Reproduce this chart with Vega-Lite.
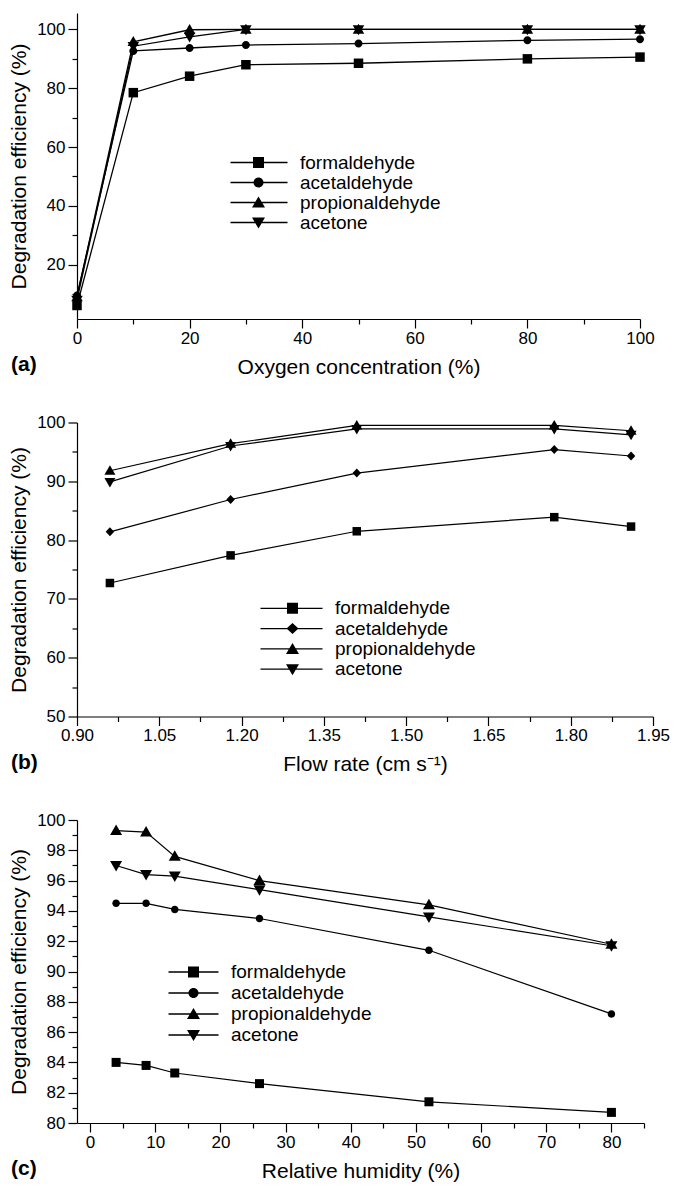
{
  "$schema": "https://vega.github.io/schema/vega-lite/v6.json",
  "padding": {"left": 8, "top": 13, "right": 4, "bottom": 2},
  "background": "white",
  "bounds": "flush",
  "spacing": 103.5,
  "resolve": {"scale": {"shape": "independent"}, "legend": {"shape": "independent"}},
  "config": {
    "font": "Liberation Sans",
    "view": {"stroke": null},
    "axis": {"domainColor": "black", "domainWidth": 1.2, "tickColor": "black", "tickWidth": 1.2, "tickSize": 9, "labelColor": "black", "labelFontSize": 17, "labelFont": "Liberation Sans", "labelFlush": false, "labelOverlap": false, "labelBound": false, "titleColor": "black", "titleFontSize": 21, "titleFont": "Liberation Sans", "titleFontWeight": "normal", "grid": false},
    "axisX": {"labelPadding": 2, "titlePadding": 10},
    "axisY": {"labelPadding": 3, "titlePadding": 7},
    "legend": {"labelFontSize": 19, "labelFont": "Liberation Sans", "labelColor": "black", "labelOffset": 8, "padding": 0, "symbolSize": 100, "symbolFillColor": "black", "symbolStrokeWidth": 0, "symbolOpacity": 1},
    "title": {"font": "Liberation Sans", "color": "black"}
  },
  "datasets": {
    "a": [
      {"compound": "formaldehyde", "x": 0, "y": 6.1}, {"compound": "formaldehyde", "x": 10, "y": 78.5}, {"compound": "formaldehyde", "x": 20, "y": 84.1}, {"compound": "formaldehyde", "x": 30, "y": 88.0}, {"compound": "formaldehyde", "x": 50, "y": 88.5}, {"compound": "formaldehyde", "x": 80, "y": 90.0}, {"compound": "formaldehyde", "x": 100, "y": 90.6},
      {"compound": "acetaldehyde", "x": 0, "y": 9.5}, {"compound": "acetaldehyde", "x": 10, "y": 92.7}, {"compound": "acetaldehyde", "x": 20, "y": 93.7}, {"compound": "acetaldehyde", "x": 30, "y": 94.7}, {"compound": "acetaldehyde", "x": 50, "y": 95.2}, {"compound": "acetaldehyde", "x": 80, "y": 96.3}, {"compound": "acetaldehyde", "x": 100, "y": 96.7},
      {"compound": "propionaldehyde", "x": 0, "y": 9.0}, {"compound": "propionaldehyde", "x": 10, "y": 95.8}, {"compound": "propionaldehyde", "x": 20, "y": 99.9}, {"compound": "propionaldehyde", "x": 30, "y": 100}, {"compound": "propionaldehyde", "x": 50, "y": 100}, {"compound": "propionaldehyde", "x": 80, "y": 100}, {"compound": "propionaldehyde", "x": 100, "y": 100},
      {"compound": "acetone", "x": 0, "y": 8.0}, {"compound": "acetone", "x": 10, "y": 94.3}, {"compound": "acetone", "x": 20, "y": 97.5}, {"compound": "acetone", "x": 30, "y": 100}, {"compound": "acetone", "x": 50, "y": 100}, {"compound": "acetone", "x": 80, "y": 100}, {"compound": "acetone", "x": 100, "y": 100}
    ],
    "b": [
      {"compound": "formaldehyde", "x": 0.96, "y": 72.7}, {"compound": "formaldehyde", "x": 1.18, "y": 77.4}, {"compound": "formaldehyde", "x": 1.41, "y": 81.5}, {"compound": "formaldehyde", "x": 1.77, "y": 83.9}, {"compound": "formaldehyde", "x": 1.91, "y": 82.3},
      {"compound": "acetaldehyde", "x": 0.96, "y": 81.4}, {"compound": "acetaldehyde", "x": 1.18, "y": 86.9}, {"compound": "acetaldehyde", "x": 1.41, "y": 91.4}, {"compound": "acetaldehyde", "x": 1.77, "y": 95.4}, {"compound": "acetaldehyde", "x": 1.91, "y": 94.3},
      {"compound": "propionaldehyde", "x": 0.96, "y": 91.8}, {"compound": "propionaldehyde", "x": 1.18, "y": 96.4}, {"compound": "propionaldehyde", "x": 1.41, "y": 99.5}, {"compound": "propionaldehyde", "x": 1.77, "y": 99.5}, {"compound": "propionaldehyde", "x": 1.91, "y": 98.6},
      {"compound": "acetone", "x": 0.96, "y": 89.9}, {"compound": "acetone", "x": 1.18, "y": 96.0}, {"compound": "acetone", "x": 1.41, "y": 98.9}, {"compound": "acetone", "x": 1.77, "y": 98.9}, {"compound": "acetone", "x": 1.91, "y": 97.9}
    ],
    "c": [
      {"compound": "formaldehyde", "x": 4, "y": 84.0}, {"compound": "formaldehyde", "x": 8.6, "y": 83.8}, {"compound": "formaldehyde", "x": 13, "y": 83.3}, {"compound": "formaldehyde", "x": 26, "y": 82.6}, {"compound": "formaldehyde", "x": 52, "y": 81.4}, {"compound": "formaldehyde", "x": 80, "y": 80.7},
      {"compound": "acetaldehyde", "x": 4, "y": 94.5}, {"compound": "acetaldehyde", "x": 8.6, "y": 94.5}, {"compound": "acetaldehyde", "x": 13, "y": 94.1}, {"compound": "acetaldehyde", "x": 26, "y": 93.5}, {"compound": "acetaldehyde", "x": 52, "y": 91.4}, {"compound": "acetaldehyde", "x": 80, "y": 87.2},
      {"compound": "propionaldehyde", "x": 4, "y": 99.3}, {"compound": "propionaldehyde", "x": 8.6, "y": 99.2}, {"compound": "propionaldehyde", "x": 13, "y": 97.6}, {"compound": "propionaldehyde", "x": 26, "y": 96.0}, {"compound": "propionaldehyde", "x": 52, "y": 94.4}, {"compound": "propionaldehyde", "x": 80, "y": 91.8},
      {"compound": "acetone", "x": 4, "y": 97.0}, {"compound": "acetone", "x": 8.6, "y": 96.4}, {"compound": "acetone", "x": 13, "y": 96.3}, {"compound": "acetone", "x": 26, "y": 95.4}, {"compound": "acetone", "x": 52, "y": 93.6}, {"compound": "acetone", "x": 80, "y": 91.7}
    ]
  },
  "vconcat": [
    {
      "width": 563, "height": 306,
      "data": {"name": "a"},
      "title": {"text": "(a)", "orient": "bottom", "anchor": "start", "frame": "group", "offset": -23, "dx": -66, "fontSize": 21, "fontWeight": "bold"},
      "resolve": {"scale": {"shape": "independent"}, "legend": {"shape": "independent"}},
      "encoding": {
        "x": {"field": "x", "type": "quantitative", "scale": {"domain": [0, 100], "nice": false, "zero": false},
          "axis": {"title": "Oxygen concentration (%)", "values": [0, 10, 20, 30, 40, 50, 60, 70, 80, 90, 100], "labelExpr": "datum.value % 20 === 0 ? datum.label : ''", "tickDash": {"condition": {"test": "datum.value % 20 !== 0", "value": [5, 30]}, "value": [30, 0]}}},
        "y": {"field": "y", "type": "quantitative", "scale": {"domain": [1.5, 105.6], "nice": false, "zero": false},
          "axis": {"title": "Degradation efficiency (%)", "values": [10, 20, 30, 40, 50, 60, 70, 80, 90, 100], "labelExpr": "datum.value % 20 === 0 ? datum.label : ''", "tickDash": {"condition": {"test": "datum.value % 20 !== 0", "value": [5, 30]}, "value": [30, 0]}}}
      },
      "layer": [
        {"mark": {"type": "line", "color": "black", "strokeWidth": 1.3}, "encoding": {"detail": {"field": "compound"}}},
        {"mark": {"type": "point", "filled": true, "color": "black", "opacity": 1, "size": 100, "strokeWidth": 0},
          "encoding": {
            "shape": {"field": "compound", "type": "nominal", "legend": null, "scale": {"domain": ["formaldehyde", "acetaldehyde", "propionaldehyde", "acetone"],
              "range": ["M-0.95,-0.95H0.95V0.95H-0.95Z", "M-0.8,0A0.8,0.8,0,1,1,0.8,0A0.8,0.8,0,1,1,-0.8,0Z", "M0,-1.15L1.15,0.85H-1.15Z", "M0,1.15L1.15,-0.85H-1.15Z"]}}
          }},
        {"transform": [{"filter": "false"}],
          "mark": {"type": "point", "filled": true, "color": "black", "opacity": 1},
          "encoding": {
            "shape": {"field": "compound", "type": "nominal", "scale": {"domain": ["formaldehyde", "acetaldehyde", "propionaldehyde", "acetone"],
              "range": ["M-10.4,-0.13H1V0.13H-10.4ZM-5.9,-1.1H-3.7V1.1H-5.9Z", "M-10.4,-0.13H1V0.13H-10.4ZM-5.8,0A1,1,0,1,1,-3.8,0A1,1,0,1,1,-5.8,0Z", "M-10.4,-0.13H1V0.13H-10.4ZM-4.8,-1.2L-3.5,1H-6.1Z", "M-10.4,-0.13H1V0.13H-10.4ZM-4.8,1.2L-6.1,-1H-3.5Z"]},
              "legend": {"orient": "none", "legendX": 196, "legendY": 140, "title": null, "rowPadding": 0}}
          }}
      ]
    },
    {
      "width": 576, "height": 294,
      "data": {"name": "b"},
      "title": {"text": "(b)", "orient": "bottom", "anchor": "start", "frame": "group", "offset": -23, "dx": -66, "fontSize": 21, "fontWeight": "bold"},
      "resolve": {"scale": {"shape": "independent"}, "legend": {"shape": "independent"}},
      "encoding": {
        "x": {"field": "x", "type": "quantitative", "scale": {"domain": [0.9, 1.95], "nice": false, "zero": false},
          "axis": {"title": "Flow rate (cm s⁻¹)", "values": [0.9, 0.975, 1.05, 1.125, 1.2, 1.275, 1.35, 1.425, 1.5, 1.575, 1.65, 1.725, 1.8, 1.875, 1.95], "labelExpr": "round(datum.value * 1000) % 150 === 0 ? format(datum.value, '.2f') : ''", "tickDash": {"condition": {"test": "round(datum.value * 1000) % 150 !== 0", "value": [5, 30]}, "value": [30, 0]}}},
        "y": {"field": "y", "type": "quantitative", "scale": {"domain": [50, 100], "nice": false, "zero": false},
          "axis": {"title": "Degradation efficiency (%)", "values": [50, 55, 60, 65, 70, 75, 80, 85, 90, 95, 100], "labelExpr": "datum.value % 10 === 0 ? datum.label : ''", "tickDash": {"condition": {"test": "datum.value % 10 !== 0", "value": [5, 30]}, "value": [30, 0]}}}
      },
      "layer": [
        {"mark": {"type": "line", "color": "black", "strokeWidth": 1.2}, "encoding": {"detail": {"field": "compound"}}},
        {"mark": {"type": "point", "filled": true, "color": "black", "opacity": 1, "size": 100, "strokeWidth": 0},
          "encoding": {
            "shape": {"field": "compound", "type": "nominal", "legend": null, "scale": {"domain": ["formaldehyde", "acetaldehyde", "propionaldehyde", "acetone"],
              "range": ["M-0.85,-0.85H0.85V0.85H-0.85Z", "M-0.85,0L0,-0.9L0.85,0L0,0.9Z", "M0,-1.1L1.1,0.8H-1.1Z", "M0,1.1L1.1,-0.8H-1.1Z"]}}
          }},
        {"transform": [{"filter": "false"}],
          "mark": {"type": "point", "filled": true, "color": "black", "opacity": 1},
          "encoding": {
            "shape": {"field": "compound", "type": "nominal", "scale": {"domain": ["formaldehyde", "acetaldehyde", "propionaldehyde", "acetone"],
              "range": ["M-11.4,-0.13H1V0.13H-11.4ZM-6.1,-1.1H-3.9V1.1H-6.1Z", "M-11.4,-0.13H1V0.13H-11.4ZM-6.2,0L-5,-1.1L-3.8,0L-5,1.1Z", "M-11.4,-0.13H1V0.13H-11.4ZM-5,-1.2L-3.7,1H-6.3Z", "M-11.4,-0.13H1V0.13H-11.4ZM-5,1.2L-6.3,-1H-3.7Z"]},
              "legend": {"orient": "none", "legendX": 231, "legendY": 176.3, "title": null, "rowPadding": 0.3}}
          }}
      ]
    },
    {
      "width": 567, "height": 303,
      "data": {"name": "c"},
      "title": {"text": "(c)", "orient": "bottom", "anchor": "start", "frame": "group", "offset": -23, "dx": -66, "fontSize": 21, "fontWeight": "bold"},
      "resolve": {"scale": {"shape": "independent"}, "legend": {"shape": "independent"}},
      "encoding": {
        "x": {"field": "x", "type": "quantitative", "scale": {"domain": [-2, 85], "nice": false, "zero": false},
          "axis": {"title": "Relative humidity (%)", "values": [0, 5, 10, 15, 20, 25, 30, 35, 40, 45, 50, 55, 60, 65, 70, 75, 80, 85], "labelExpr": "datum.value % 10 === 0 ? datum.label : ''", "tickDash": {"condition": {"test": "datum.value % 10 !== 0", "value": [5, 30]}, "value": [30, 0]}}},
        "y": {"field": "y", "type": "quantitative", "scale": {"domain": [80, 100], "nice": false, "zero": false},
          "axis": {"title": "Degradation efficiency (%)", "values": [80, 81, 82, 83, 84, 85, 86, 87, 88, 89, 90, 91, 92, 93, 94, 95, 96, 97, 98, 99, 100], "labelExpr": "datum.value % 2 === 0 ? datum.label : ''", "tickDash": {"condition": {"test": "datum.value % 2 !== 0", "value": [5, 30]}, "value": [30, 0]}}}
      },
      "layer": [
        {"mark": {"type": "line", "color": "black", "strokeWidth": 1.2}, "encoding": {"detail": {"field": "compound"}}},
        {"mark": {"type": "point", "filled": true, "color": "black", "opacity": 1, "size": 100, "strokeWidth": 0},
          "encoding": {
            "shape": {"field": "compound", "type": "nominal", "legend": null, "scale": {"domain": ["formaldehyde", "acetaldehyde", "propionaldehyde", "acetone"],
              "range": ["M-0.9,-0.9H0.9V0.9H-0.9Z", "M-0.75,0A0.75,0.75,0,1,1,0.75,0A0.75,0.75,0,1,1,-0.75,0Z", "M0,-1.2L1.2,0.9H-1.2Z", "M0,1.2L1.2,-0.9H-1.2Z"]}}
          }},
        {"transform": [{"filter": "false"}],
          "mark": {"type": "point", "filled": true, "color": "black", "opacity": 1},
          "encoding": {
            "shape": {"field": "compound", "type": "nominal", "scale": {"domain": ["formaldehyde", "acetaldehyde", "propionaldehyde", "acetone"],
              "range": ["M-9,-0.13H1V0.13H-9ZM-5.1,-1.1H-2.9V1.1H-5.1Z", "M-9,-0.13H1V0.13H-9ZM-5,0A1,1,0,1,1,-3,0A1,1,0,1,1,-5,0Z", "M-9,-0.13H1V0.13H-9ZM-4,-1.2L-2.7,1H-5.3Z", "M-9,-0.13H1V0.13H-9ZM-4,1.2L-5.3,-1H-2.7Z"]},
              "legend": {"orient": "none", "legendX": 127, "legendY": 142.5, "title": null, "rowPadding": 1}}
          }}
      ]
    }
  ]
}
